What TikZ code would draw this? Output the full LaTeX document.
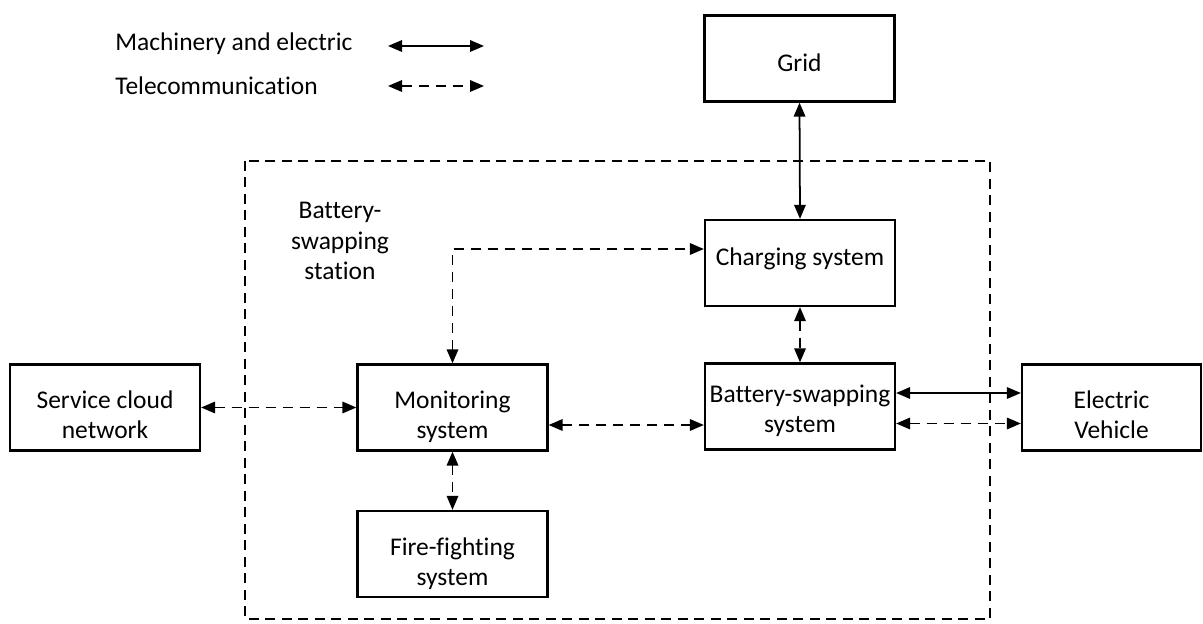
\documentclass[tikz,border=0pt]{standalone}
\usepackage{fontspec}
\setmainfont[Ligatures=NoCommon]{Carlito}
\usetikzlibrary{arrows.meta}

\begin{document}
\begin{tikzpicture}[x=0.02cm, y=-0.02cm, line cap=butt, line join=miter,
    >={Triangle[length=2.8mm,width=2.3mm]},
    box/.style={draw, line width=1.3pt, minimum width=3.8cm, minimum height=1.72cm,
      align=center, inner sep=0pt, text depth=0pt, text height=35.5pt,
      font=\fontsize{14.5}{17}\selectfont},
    link/.style={<->, line width=1pt},
    tele/.style={<->, line width=1pt, dash pattern=on 2mm off 1.4mm},
    legend/.style={anchor=west, inner sep=0pt, font=\fontsize{14.5}{16}\selectfont}]
  \useasboundingbox (0,0) rectangle (1203,624);

  % Legend
  \node[legend] (mech) at (115,44) {Machinery and electric};
  \node[legend] (tel) at (115,86) {Telecommunication};
  \coordinate (mechA) at (388,46);
  \coordinate (mechB) at (484,46);
  \coordinate (telA) at (388,86);
  \coordinate (telB) at (484,86);
  \draw[link] (mechA) -- (mechB);
  \draw[tele] (telA) -- (telB);

  % Station boundary
  \draw[line width=1pt, dash pattern=on 2mm off 1.3mm] (245,161) rectangle (990,619);
  \node[align=center, inner sep=0pt, font=\fontsize{14.5}{17.5}\selectfont] (station) at (340,241)
    {Battery-\\swapping\\station};

  % Boxes
  \node[box, text height=15.3pt] (grid) at (799.5,58.5) {Grid};
  \node[box, text height=2.3pt] (charge) at (800,263) {Charging system};
  \node[box, text height=30pt] (bss) at (800,406.5) {Battery-swapping\\system};
  \node[box] (mon) at (452.5,407.5) {Monitoring\\system};
  \node[box] (svc) at (105,407.5) {Service cloud\\network};
  \node[box, minimum width=3.58cm] (ev) at (1111.5,407.5) {Electric\\Vehicle};
  \node[box] (fire) at (452.5,554) {Fire-fighting\\system};

  % Connections
  \draw[link] (grid.south) -- (charge.north);
  \draw[tele] (mon.north) |- ([yshift=2.8mm]charge.west);
  \draw[tele] (charge.south) -- (bss.north);
  \draw[tele] (svc.east) -- (mon.west);
  \draw[tele] ([yshift=-3.5mm]mon.east) -- ([yshift=-3.5mm]mon.east -| bss.west);
  \draw[link] ([yshift=2.7mm]bss.east) -- ([yshift=2.7mm]bss.east -| ev.west);
  \draw[tele] ([yshift=-3.4mm]bss.east) -- ([yshift=-3.4mm]bss.east -| ev.west);
  \draw[tele] (mon.south) -- (fire.north);
\end{tikzpicture}
\end{document}
